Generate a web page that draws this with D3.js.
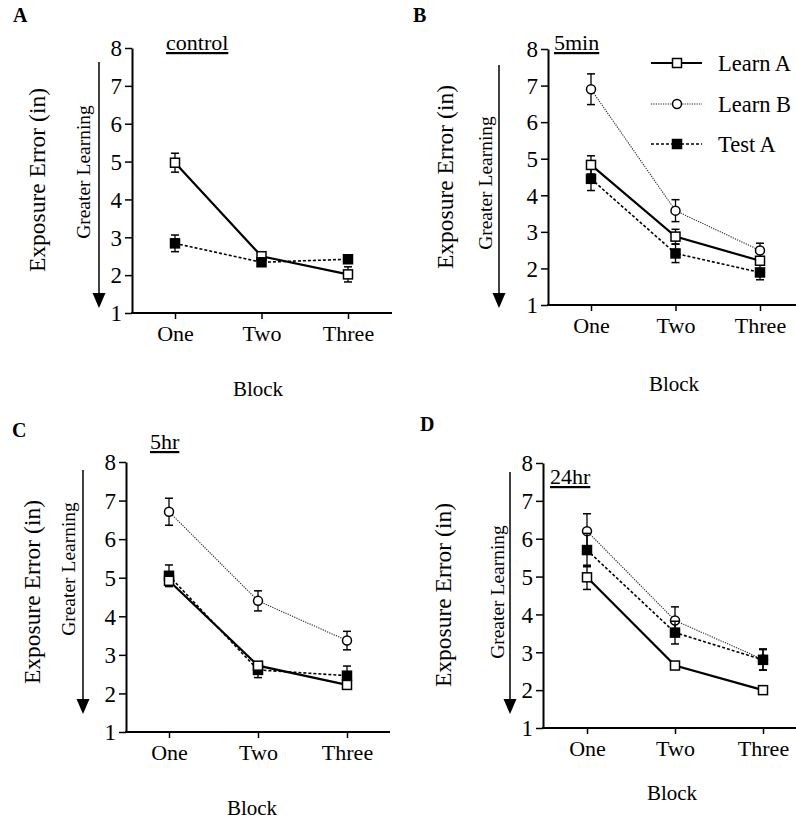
<!DOCTYPE html>
<html>
<head>
<meta charset="utf-8">
<script src="https://cdn.jsdelivr.net/npm/d3@7"></script>
<style>
  body { margin: 0; background: #fff; }
  svg text { font-family: "Liberation Serif", "Times New Roman", Tinos, "DejaVu Serif", serif !important; fill: #000; }
</style>
</head>
<body>
<div id="chart"></div>
<script>
// categories and ticks
var blocks = ["One", "Two", "Three"];
var yTicks = [1, 2, 3, 4, 5, 6, 7, 8];

// A: control
var controlLearnA = [4.97, 2.5, 2.02];
var controlLearnAErr = [0.25, 0.08, 0.2];
var controlTestA = [2.84, 2.34, 2.42];
var controlTestAErr = [0.22, 0.06, 0.1];

// B: 5min
var min5LearnA = [4.83, 2.87, 2.21];
var min5LearnAErr = [0.25, 0.2, 0.1];
var min5LearnB = [6.9, 3.58, 2.49];
var min5LearnBErr = [0.42, 0.3, 0.2];
var min5TestA = [4.45, 2.41, 1.89];
var min5TestAErr = [0.32, 0.25, 0.2];

// C: 5hr
var hr5LearnA = [4.92, 2.72, 2.22];
var hr5LearnAErr = [0.12, 0.1, 0.06];
var hr5LearnB = [6.71, 4.4, 3.37];
var hr5LearnBErr = [0.35, 0.26, 0.24];
var hr5TestA = [5.05, 2.61, 2.46];
var hr5TestAErr = [0.28, 0.2, 0.25];

// D: 24hr
var hr24LearnA = [4.98, 2.65, 2.0];
var hr24LearnAErr = [0.32, 0.05, 0.05];
var hr24LearnB = [6.2, 3.84, 2.81];
var hr24LearnBErr = [0.46, 0.36, 0.28];
var hr24TestA = [5.7, 3.52, 2.8];
var hr24TestAErr = [0.44, 0.3, 0.27];

var seriesNames = ["Learn A", "Learn B", "Test A"];

var FONT = "'Liberation Serif', 'Times New Roman', Tinos, 'DejaVu Serif', serif";

var styles = {
  "Learn A": {dash: null, width: 2.2, color: "#000", marker: "openSquare"},
  "Learn B": {dash: "1.2,1.2", width: 1.1, color: "#222", marker: "circle"},
  "Test A": {dash: "3,2", width: 1.6, color: "#000", marker: "filledSquare"}
};

var svg = d3.select("#chart").append("svg")
  .attr("width", 796)
  .attr("height", 819)
  .attr("font-family", FONT);

var panels = [
  {letter: "A", title: "control", axisX: 132, y8: 48, y1: 313, xOne: 175, xThree: 348, xRight: 392,
   letterPos: [13, 22], titlePos: [166, 50], expPos: [37, 180], glPos: [83, 172], arrow: [99, 62, 308], blockPos: [258, 396],
   series: [
     {name: "Learn A", values: controlLearnA, err: controlLearnAErr},
     {name: "Test A", values: controlTestA, err: controlTestAErr}
   ]},
  {letter: "B", title: "5min", axisX: 548, y8: 49, y1: 305, xOne: 591, xThree: 760, xRight: 800,
   letterPos: [413, 22], titlePos: [554, 50], expPos: [445, 177], glPos: [485, 183], arrow: [499, 65, 308], blockPos: [674, 391],
   legend: true,
   series: [
     {name: "Learn B", values: min5LearnB, err: min5LearnBErr},
     {name: "Test A", values: min5TestA, err: min5TestAErr},
     {name: "Learn A", values: min5LearnA, err: min5LearnAErr}
   ]},
  {letter: "C", title: "5hr", axisX: 126, y8: 462, y1: 732, xOne: 169, xThree: 347, xRight: 390,
   letterPos: [12, 437], titlePos: [150, 449], expPos: [32, 592], glPos: [68, 569], arrow: [83, 470, 714], blockPos: [252, 815],
   series: [
     {name: "Learn B", values: hr5LearnB, err: hr5LearnBErr},
     {name: "Test A", values: hr5TestA, err: hr5TestAErr},
     {name: "Learn A", values: hr5LearnA, err: hr5LearnAErr}
   ]},
  {letter: "D", title: "24hr", axisX: 543, y8: 463, y1: 728, xOne: 587, xThree: 763, xRight: 800,
   letterPos: [420, 431], titlePos: [550, 484], expPos: [443, 595], glPos: [497, 592], arrow: [510, 472, 714], blockPos: [672, 800],
   series: [
     {name: "Learn B", values: hr24LearnB, err: hr24LearnBErr},
     {name: "Test A", values: hr24TestA, err: hr24TestAErr},
     {name: "Learn A", values: hr24LearnA, err: hr24LearnAErr}
   ]}
];

function drawMarker(g, type, cx, cy) {
  if (type === "circle") {
    g.append("circle").attr("cx", cx).attr("cy", cy).attr("r", 4.5)
      .attr("fill", "#fff").attr("stroke", "#000").attr("stroke-width", 1.5);
  } else {
    g.append("rect").attr("x", cx - 4.5).attr("y", cy - 4.5).attr("width", 9).attr("height", 9)
      .attr("fill", type === "filledSquare" ? "#000" : "#fff")
      .attr("stroke", "#000").attr("stroke-width", 1.5);
  }
}

panels.forEach(function(p) {
  var g = svg.append("g");

  var y = d3.scaleLinear().domain([1, 8]).range([p.y1, p.y8]);
  var x = d3.scalePoint().domain(blocks).range([p.xOne, p.xThree]);

  // y axis
  var yAxis = d3.axisLeft(y).tickValues(yTicks).tickFormat(d3.format("d"))
    .tickSize(7).tickSizeOuter(0).tickPadding(3);
  var ya = g.append("g")
    .attr("transform", "translate(" + p.axisX + ",0)")
    .call(yAxis)
    .attr("font-family", FONT);
  ya.select(".domain").attr("stroke-width", 2);
  ya.selectAll(".tick line").attr("stroke-width", 1.5);
  ya.selectAll("text").attr("font-size", 23).attr("dy", "0.34em");

  // x axis
  var xAxis = d3.axisBottom(x).tickSize(6).tickSizeOuter(0).tickPadding(6);
  var xa = g.append("g")
    .attr("transform", "translate(0," + p.y1 + ")")
    .call(xAxis)
    .attr("font-family", FONT);
  xa.select(".domain").remove();
  xa.selectAll(".tick line").attr("stroke-width", 1.5);
  xa.selectAll("text").attr("font-size", 22);
  g.append("line")
    .attr("x1", p.axisX - 1).attr("x2", p.xRight)
    .attr("y1", p.y1).attr("y2", p.y1)
    .attr("stroke", "#000").attr("stroke-width", 2);

  // panel letter
  g.append("text").attr("x", p.letterPos[0]).attr("y", p.letterPos[1])
    .attr("font-size", 20).attr("font-weight", "bold").text(p.letter);

  // condition title
  g.append("text").attr("x", p.titlePos[0]).attr("y", p.titlePos[1])
    .attr("font-size", 22).style("text-decoration", "underline").text(p.title);

  // y labels
  g.append("text")
    .attr("transform", "translate(" + p.expPos[0] + "," + p.expPos[1] + ") rotate(-90)")
    .attr("text-anchor", "middle").attr("dy", "0.35em")
    .attr("font-size", 23.5).text("Exposure Error (in)");
  g.append("text")
    .attr("transform", "translate(" + p.glPos[0] + "," + p.glPos[1] + ") rotate(-90)")
    .attr("text-anchor", "middle").attr("dy", "0.35em")
    .attr("font-size", 19.5).text("Greater Learning");

  // arrow
  g.append("line")
    .attr("x1", p.arrow[0]).attr("x2", p.arrow[0])
    .attr("y1", p.arrow[1]).attr("y2", p.arrow[2] - 10)
    .attr("stroke", "#000").attr("stroke-width", 1.5);
  g.append("path")
    .attr("d", "M" + (p.arrow[0] - 6.5) + "," + (p.arrow[2] - 15) + "L" + (p.arrow[0] + 6.5) + "," + (p.arrow[2] - 15) +
      "L" + p.arrow[0] + "," + p.arrow[2] + "Z")
    .attr("fill", "#000");

  // x label
  g.append("text").attr("x", p.blockPos[0]).attr("y", p.blockPos[1])
    .attr("text-anchor", "middle").attr("font-size", 21).text("Block");

  // series
  var line = d3.line()
    .x(function(d) { return x(d.block); })
    .y(function(d) { return y(d.v); });

  p.series.forEach(function(s) {
    var st = styles[s.name];
    var pts = s.values.map(function(v, i) { return {block: blocks[i], v: v, e: s.err[i]}; });
    var path = g.append("path").datum(pts)
      .attr("d", line)
      .attr("fill", "none")
      .attr("stroke", st.color)
      .attr("stroke-width", st.width);
    if (st.dash) path.attr("stroke-dasharray", st.dash);

    pts.forEach(function(d) {
      var cx = x(d.block);
      var top = y(d.v + d.e), bot = y(d.v - d.e);
      g.append("line").attr("x1", cx).attr("x2", cx).attr("y1", top).attr("y2", bot)
        .attr("stroke", "#000").attr("stroke-width", 1.3);
      [top, bot].forEach(function(yy) {
        g.append("line").attr("x1", cx - 4).attr("x2", cx + 4).attr("y1", yy).attr("y2", yy)
          .attr("stroke", "#000").attr("stroke-width", 1.5);
      });
    });
    pts.forEach(function(d) {
      drawMarker(g, st.marker, x(d.block), y(d.v));
    });
  });

  // legend
  if (p.legend) {
    var legRows = [63, 104, 144];
    seriesNames.forEach(function(name, i) {
      var st = styles[name];
      var ly = legRows[i];
      var l = g.append("line").attr("x1", 651).attr("x2", 702).attr("y1", ly).attr("y2", ly)
        .attr("stroke", st.color).attr("stroke-width", st.width);
      if (st.dash) l.attr("stroke-dasharray", st.dash);
      drawMarker(g, st.marker, 677, ly);
      g.append("text").attr("x", 718).attr("y", ly).attr("dy", "0.35em")
        .attr("font-size", 22.5).text(name);
    });
  }
});
</script>
</body>
</html>
